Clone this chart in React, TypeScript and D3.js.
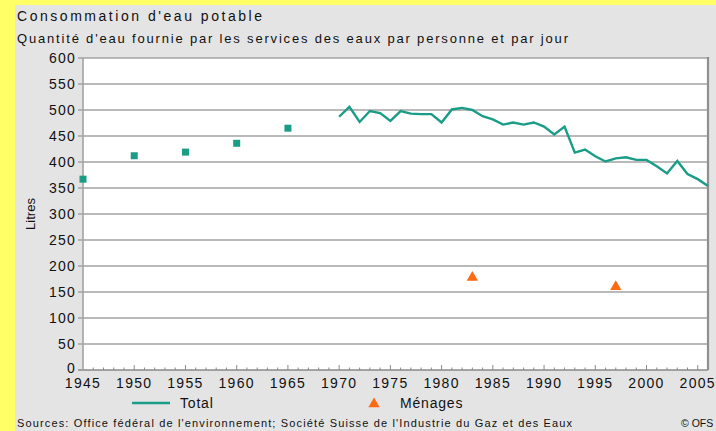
import React from "react";
import * as d3 from "d3";

// données (litres par personne et par jour)
const earlyYears = [1945, 1950, 1955, 1960, 1965];
const earlyTotal = [367, 412, 419, 436, 465];

const totalYears = [1970, 1971, 1972, 1973, 1974, 1975, 1976, 1977, 1978, 1979, 1980, 1981, 1982, 1983, 1984, 1985, 1986, 1987, 1988, 1989, 1990, 1991, 1992, 1993, 1994, 1995, 1996, 1997, 1998, 1999, 2000, 2001, 2002, 2003, 2004, 2005, 2006];
const totalValues = [487, 506, 477, 498, 494, 479, 498, 493, 492, 492, 476, 501, 504, 500, 488, 482, 472, 476, 472, 476, 468, 453, 468, 418, 424, 411, 401, 407, 409, 404, 404, 392, 378, 402, 377, 367, 354];

const menagesYears = [1983, 1997];
const menagesValues = [178, 160];

const yTicks = [0, 50, 100, 150, 200, 250, 300, 350, 400, 450, 500, 550, 600];
const xTicks = [1945, 1950, 1955, 1960, 1965, 1970, 1975, 1980, 1985, 1990, 1995, 2000, 2005];

const TEAL = "#1a9c86";
const ORANGE = "#ff6a10";
const GRID = "#a3a3a3";
const FONT = "'Liberation Sans', Arial, sans-serif";

export default function App() {
  const width = 716;
  const height = 431;
  const m = { top: 58, right: 8, bottom: 61, left: 83 };

  const x = d3.scaleLinear().domain([1945, 2006]).range([m.left, width - m.right]);
  const y = d3.scaleLinear().domain([0, 600]).range([height - m.bottom, m.top]);

  const line = d3.line<number>()
    .x((_, i) => x(totalYears[i]))
    .y(d => y(d));

  const minorYears = d3.range(1946, 2006);
  const tri = d3.symbol().type(d3.symbolTriangle).size(55)();

  return (
    <svg width={width} height={height} style={{ position: "absolute", left: 0, top: 0 }} fontFamily={FONT}>
      <rect width={width} height={height} fill="#ffff66" />
      <rect x={15} y={5} width={width - 15} height={height - 5} fill="#e4e4e4" />

      <text x={17} y={21} fontSize={14} fill="#111" textLength={245} lengthAdjust="spacing">Consommation d'eau potable</text>
      <text x={17} y={43} fontSize={13} fill="#111" textLength={551} lengthAdjust="spacing">Quantité d'eau fournie par les services des eaux par personne et par jour</text>

      {/* zone du graphique */}
      <rect x={m.left} y={m.top} width={width - m.right - m.left} height={y(0) - m.top} fill="#fff" />

      {yTicks.map(t => (
        <g key={t}>
          <line x1={m.left - 5} x2={width - m.right} y1={y(t)} y2={y(t)} stroke={t === 0 ? "#8a8a8a" : GRID} strokeWidth={1.6} />
          <text x={m.left - 7} y={y(t) - (t === 0 ? 2 : 0)} dy="0.35em" textAnchor="end" fontSize={14} letterSpacing={1.2} fill="#111">{t}</text>
        </g>
      ))}

      <line x1={m.left} x2={m.left} y1={m.top} y2={y(0)} stroke={GRID} strokeWidth={1.6} />
      <line x1={width - m.right} x2={width - m.right} y1={m.top - 1} y2={y(0)} stroke="#8f8f8f" strokeWidth={2.2} />

      {minorYears.map(yr => (
        <line key={yr} x1={x(yr)} x2={x(yr)} y1={y(0)} y2={y(0) - (yr % 5 === 0 ? 5 : 2.5)} stroke="#8a8a8a" strokeWidth={1} />
      ))}

      {xTicks.map(t => (
        <text key={t} x={x(t)} y={y(0) + 18} textAnchor="middle" fontSize={14} letterSpacing={1.3} fill="#111">{t}</text>
      ))}

      <text transform={`translate(35,${(y(0) + m.top) / 2}) rotate(-90)`} textAnchor="middle" fontSize={13} fill="#111">Litres</text>

      {earlyYears.map((yr, i) => (
        <rect key={yr} x={x(yr) - 3.5} y={y(earlyTotal[i]) - 3.5} width={7} height={7} fill={TEAL} />
      ))}

      <path d={line(totalValues) ?? ""} fill="none" stroke={TEAL} strokeWidth={2.4} strokeLinejoin="miter" />

      {menagesYears.map((yr, i) => (
        <path key={yr} d={tri ?? ""} transform={`translate(${x(yr)},${y(menagesValues[i])})`} fill={ORANGE} />
      ))}

      {/* légende */}
      <line x1={132} x2={170} y1={403} y2={403} stroke={TEAL} strokeWidth={2.6} />
      <text x={180} y={408} fontSize={14} letterSpacing={0.8} fill="#111">Total</text>
      <path d={tri ?? ""} transform="translate(374,404)" fill={ORANGE} />
      <text x={400} y={408} fontSize={14} letterSpacing={0.8} fill="#111">Ménages</text>

      <text x={17} y={427} fontSize={11} fill="#111" textLength={555} lengthAdjust="spacing">Sources: Office fédéral de l'environnement; Société Suisse de l'Industrie du Gaz et des Eaux</text>
      <text x={681} y={427} fontSize={10.5} fill="#111">© OFS</text>
    </svg>
  );
}
